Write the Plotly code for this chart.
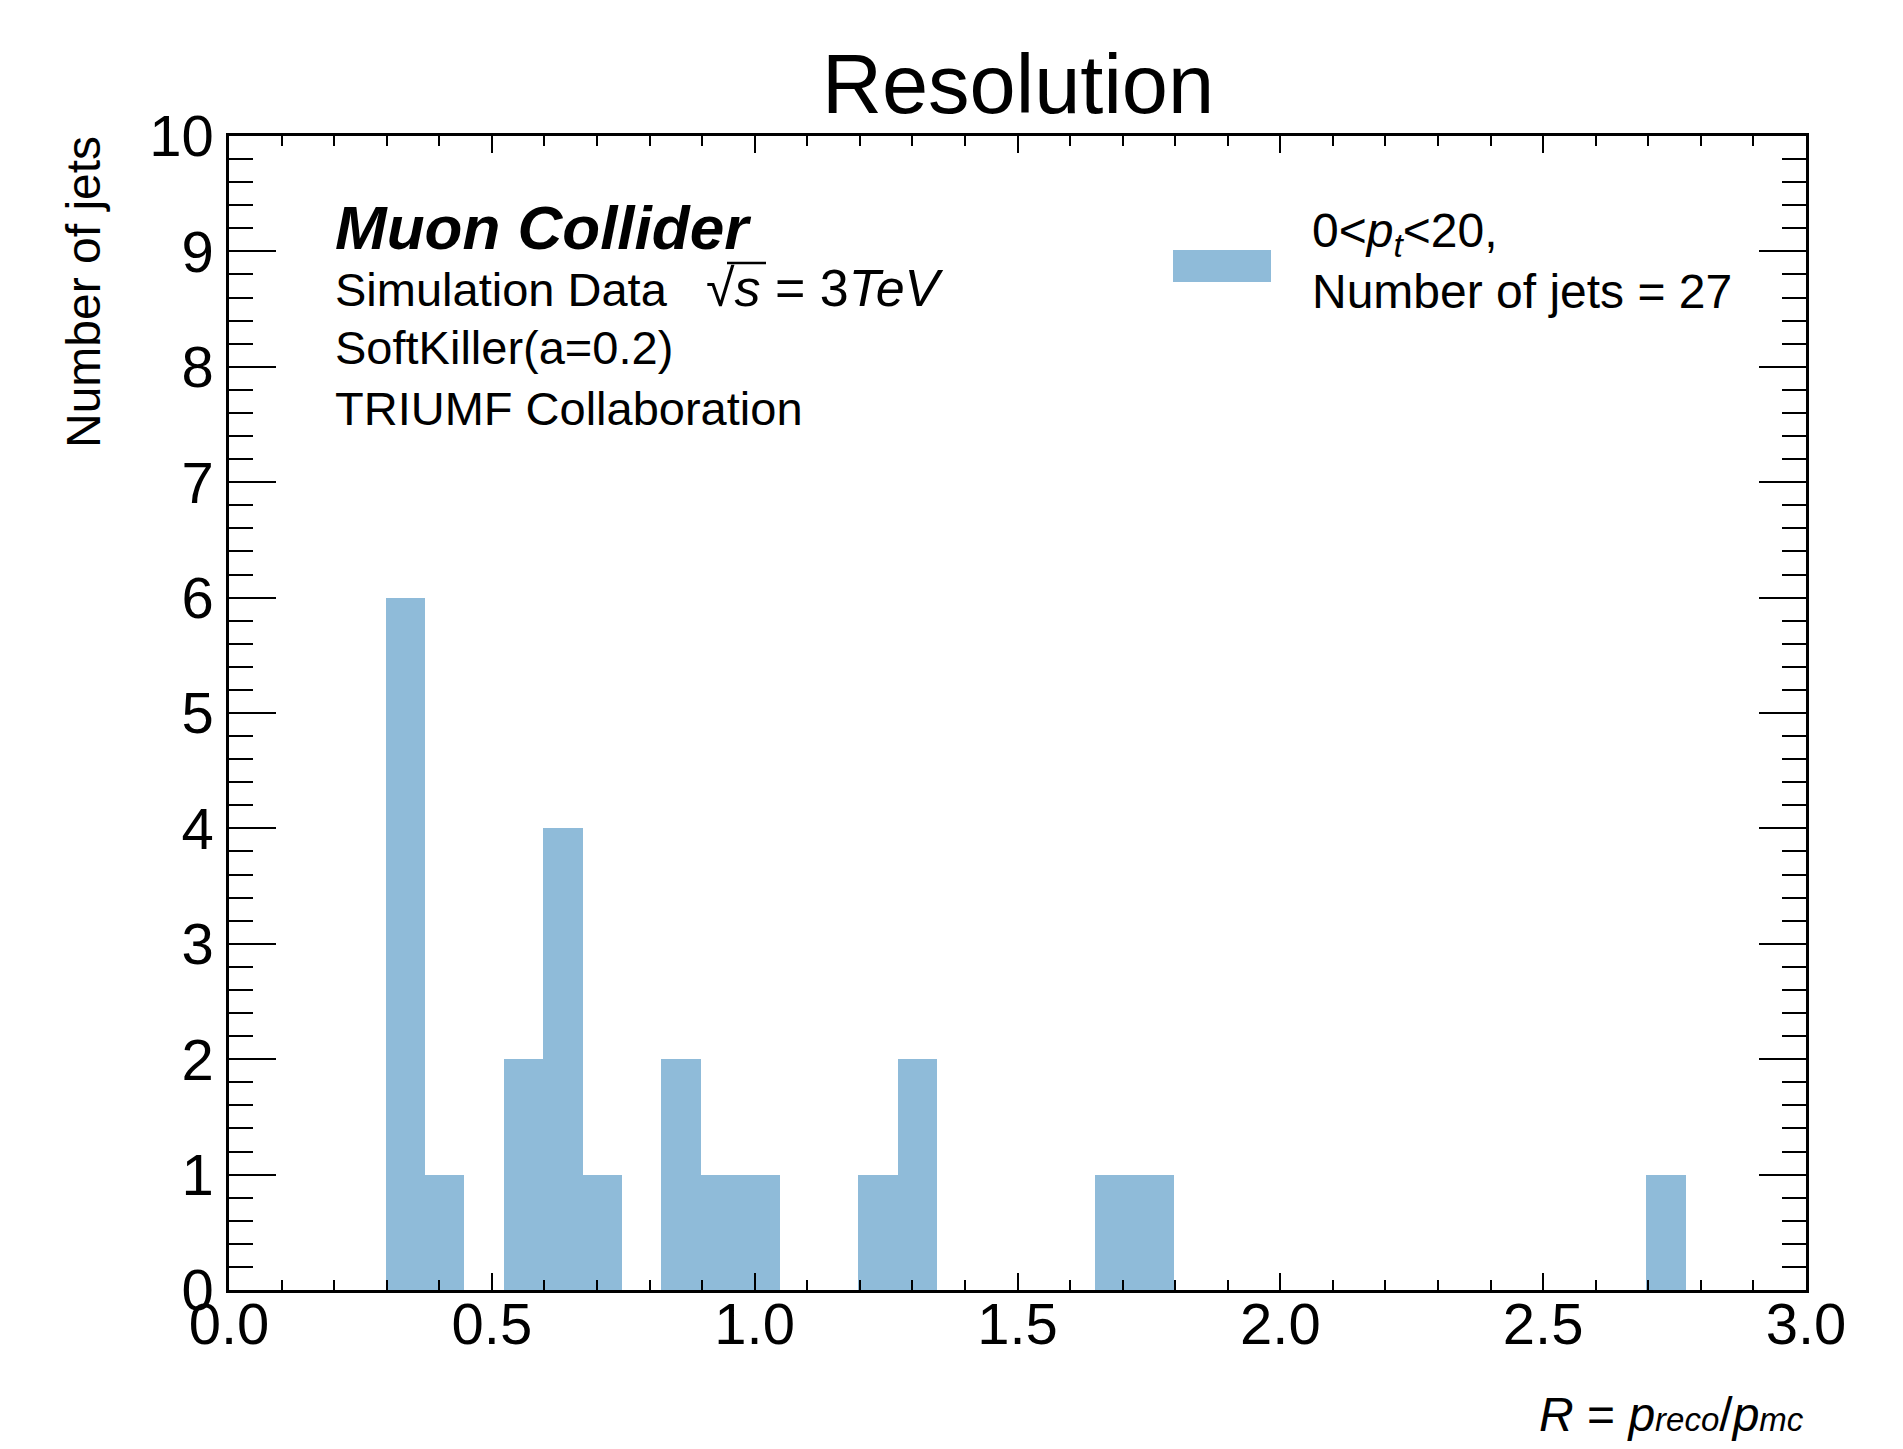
import numpy as np
import plotly.graph_objects as go

# ---- data ----
bin_low = 0.298          # lower edge of first bin
bin_high = 2.7715        # upper edge of last bin
counts = [6, 1, 0, 2, 4, 1, 0, 2, 1, 1, 0, 0, 1, 2, 0, 0, 0, 0, 1, 1,
          0, 0, 0, 0, 0, 0, 0, 0, 0, 0, 0, 0, 1]
x_ticks = [0.0, 0.5, 1.0, 1.5, 2.0, 2.5, 3.0]
y_ticks = [0, 1, 2, 3, 4, 5, 6, 7, 8, 9, 10]
title_text = "Resolution"
legend_lines = ["0&lt;<i>p</i><sub><i>t</i></sub>&lt;20,", "Number of jets = 27"]
block_lines = ["<b><i>Muon Collider</i></b>",
               "Simulation Data   <span style='font-size:52px'>\u221a<i>s</i> = 3<i>TeV</i></span>",
               "SoftKiller(a=0.2)",
               "TRIUMF Collaboration"]
x_title = ("<i>R</i> = <i>p</i><span style='font-size:33px'><i>reco</i></span>/"
           "<i>p</i><span style='font-size:33px'><i>mc</i></span>")

edges = np.linspace(bin_low, bin_high, len(counts) + 1)
centers = 0.5 * (edges[:-1] + edges[1:])
widths = np.diff(edges)

# page geometry (page pixels; the plot div sits at an 8px body margin)
OFF = 8
PAGE_W, PAGE_H = 1903, 1449
W, H = PAGE_W - 2 * OFF, PAGE_H - 2 * OFF
L, R, T, B = 229, 1806, 136, 1290
FONT = "Liberation Sans, Arial, Helvetica, sans-serif"
BAR = "#8FBBD9"


def px(x):
    return (x - L) / (R - L)


def py(y):
    return (B - y) / (B - T)


fig = go.Figure()
fig.add_trace(go.Bar(x=centers, y=counts, width=widths, marker=dict(color=BAR, line=dict(width=0)),
                     showlegend=False, hoverinfo="x+y"))

axis_common = dict(showline=True, linecolor="black", linewidth=2.5, mirror="ticks",
                   ticks="inside", tickcolor="black", showgrid=False, zeroline=False,
                   tickfont=dict(family=FONT, size=58, color="black"))

fig.update_xaxes(range=[0, 3], tickvals=x_ticks, ticktext=[f"{v:.1f}" for v in x_ticks],
                 ticklen=17, tickwidth=2,
                 minor=dict(dtick=0.1, tick0=0, ticks="inside", ticklen=10, tickwidth=2, tickcolor="black"),
                 ticklabelstandoff=-18, **axis_common)
fig.update_yaxes(range=[0, 10], tickvals=y_ticks, ticklen=47, tickwidth=2,
                 minor=dict(dtick=0.2, tick0=0, ticks="inside", ticklen=24, tickwidth=2, tickcolor="black"),
                 ticklabelstandoff=1, **axis_common)

ann = []
# title
ann.append(dict(text=title_text, xref="paper", yref="paper", x=px((L + R) / 2), y=py(113 - 0.3465 * 83),
                xanchor="center", yanchor="middle", showarrow=False,
                font=dict(family=FONT, size=83, color="black")))
# y-axis title (top aligned)
ann.append(dict(text="Number of jets", xref="paper", yref="paper", x=px(83), y=py(134),
                xanchor="center", yanchor="top", textangle=-90, showarrow=False,
                font=dict(family=FONT, size=48, color="black")))
# x-axis title (right aligned)
ann.append(dict(text=x_title, xref="paper", yref="paper", x=px(1806), y=py(1431 - 0.3465 * 48),
                xanchor="right", yanchor="middle", showarrow=False,
                font=dict(family=FONT, size=48, color="black")))
# text block
block_sizes = [62, 47, 47, 47]
block_base = [249, 304, 364, 425]
for txt, fs, bl in zip(block_lines, block_sizes, block_base):
    ann.append(dict(text=txt, xref="paper", yref="paper", x=px(333), y=py(bl - 0.3465 * fs),
                    xanchor="left", yanchor="middle", showarrow=False,
                    font=dict(family=FONT, size=fs, color="black")))
# legend text
for txt, bl in zip(legend_lines, [251, 308]):
    ann.append(dict(text=txt, xref="paper", yref="paper", x=px(1310), y=py(bl - 0.3465 * 48),
                    xanchor="left", yanchor="middle", showarrow=False,
                    font=dict(family=FONT, size=48, color="black")))

shapes = [
    # legend patch
    dict(type="rect", xref="paper", yref="paper", x0=px(1173), x1=px(1271), y0=py(282), y1=py(250),
         fillcolor=BAR, line=dict(width=0), layer="above"),
    # radical bar over s
    dict(type="line", xref="paper", yref="paper", x0=px(727), x1=px(766), y0=py(263), y1=py(263),
         line=dict(color="black", width=2.5), layer="above"),
]

fig.update_layout(width=W, height=H,
                  margin=dict(l=L - OFF, r=(OFF + W) - R, t=T - OFF, b=(OFF + H) - B),
                  plot_bgcolor="white", paper_bgcolor="white", bargap=0,
                  annotations=ann, shapes=shapes, font=dict(family=FONT, color="black"))

fig.write_html("out.html")
